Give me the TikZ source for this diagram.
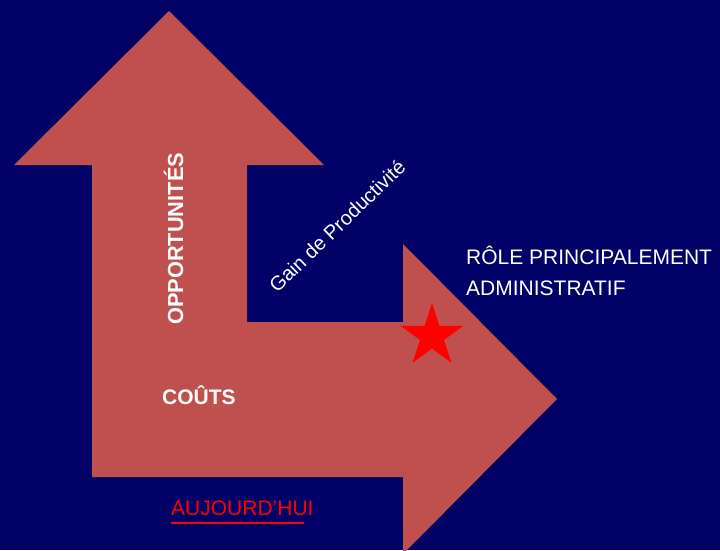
\documentclass[tikz,border=0pt]{standalone}
\usepackage{fontspec}
\setmainfont{Liberation Sans}
\usetikzlibrary{shapes.geometric}
\definecolor{bgnavy}{RGB}{0,0,102}
\definecolor{arrowred}{RGB}{192,80,77}
\begin{document}
\begin{tikzpicture}[x=1pt,y=-1pt,
  lbl/.style={inner sep=0pt, text=white},
  boldlbl/.style={lbl, font=\bfseries\fontsize{21}{25}\selectfont},
  plainlbl/.style={lbl, font=\fontsize{21}{31}\selectfont}]
\fill[bgnavy] (0,0) rectangle (720,550);
\useasboundingbox (0,0) rectangle (720,550);
% L-shaped double arrow
\fill[arrowred] (169,11) -- (324,165) -- (247,165) -- (247,322) -- (403,322)
  -- (403,244) -- (557,399) -- (403,554) -- (403,477) -- (92,477)
  -- (92,165) -- (14,165) -- cycle;
% star
\node (star) [star, star points=5, star point ratio=2.618, minimum size=66pt,
  inner sep=0pt, fill=red] at (432,336) {};
% labels
\node (opp) [lbl, font=\bfseries\fontsize{21.8}{25}\selectfont, rotate=90, anchor=base west] at (183,325) {OPPORTUNITÉS};
\node (couts) [boldlbl, anchor=base west] at (162,404) {COÛTS};
\node (gain) [lbl, font=\fontsize{20}{24}\selectfont, rotate=44] at (337,226) {Gain de Productivité};
\node (role) [plainlbl, anchor=base west, align=left] at (466,295) {RÔLE PRINCIPALEMENT\\ADMINISTRATIF};
\node (auj) [lbl, text=red, font=\fontsize{21}{25}\selectfont, anchor=base west] at (171,515) {AUJOURD’HUI};
\draw[red, line width=1.5pt] ([yshift=-8pt]auj.base west) -- +(133,0);
\end{tikzpicture}
\end{document}
